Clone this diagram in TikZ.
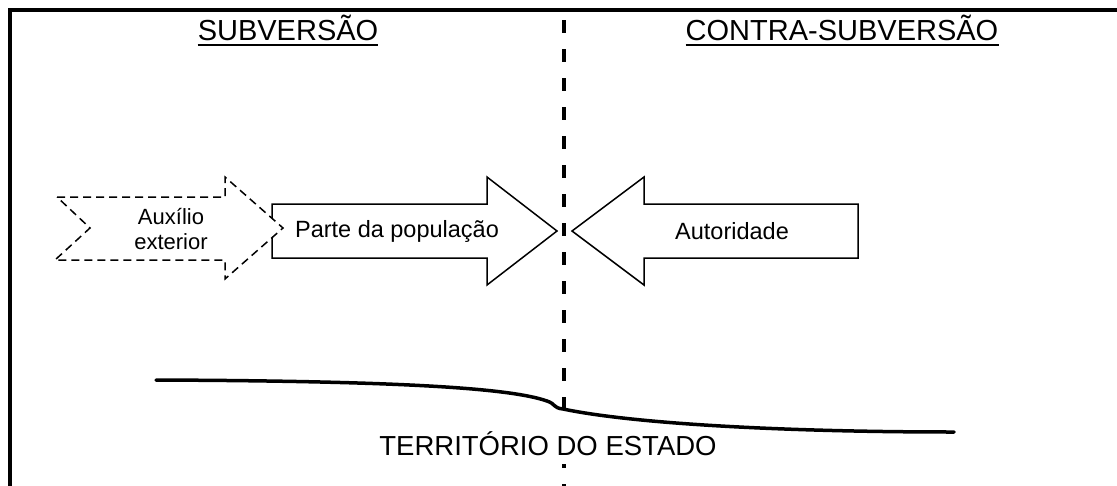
\documentclass[tikz,border=0pt]{standalone}
\usepackage{fontspec}
\setmainfont{Liberation Sans}
\begin{document}
\begin{tikzpicture}[x=1pt,y=-1pt,
  title/.style={font=\fontsize{29}{34}\selectfont, anchor=base, inner sep=0pt},
  label/.style={font=\fontsize{23.5}{27}\selectfont, inner sep=0pt},
  small/.style={font=\fontsize{22}{25}\selectfont, inner sep=0pt, align=center},
  bigarrow/.style={draw=black, fill=white, line width=1.5pt, line join=miter},
  dasharrow/.style={draw=black, fill=white, line width=1.5pt, dash pattern=on 8pt off 5pt},
  divider/.style={line width=3.2pt, dash pattern=on 13pt off 16pt},
  ground/.style={line width=3.5pt, line cap=round}
]
\useasboundingbox (0,0) rectangle (1117,485);
% frame
\draw[line width=4pt, line join=miter] (1120,10) -- (10,10) -- (10,490);
% dashed divider
\coordinate (dtop) at (564,20);
\coordinate (dbot) at (564,490);
\draw[divider] (dtop) -- (dbot);
% titles
\node[title] (sub) at (288,40) {SUBVERS\~AO};
\node[title] (csub) at (842,40) {CONTRA-SUBVERS\~AO};
\draw[line width=2pt] ([yshift=-4.5pt]sub.base west) -- ([yshift=-4.5pt]sub.base east);
\draw[line width=2pt] ([yshift=-4.5pt]csub.base west) -- ([yshift=-4.5pt]csub.base east);
% right arrow (parte da populacao)
\draw[bigarrow] (272,204) -- (487,204) -- (487,177) -- (557,231) -- (487,285) -- (487,258) -- (272,258) -- cycle;
% left arrow (autoridade)
\draw[bigarrow] (858,204) -- (644,204) -- (644,177) -- (572,231) -- (644,285) -- (644,258) -- (858,258) -- cycle;
% dashed arrow (auxilio exterior)
\draw[dasharrow] (57,197) -- (225,197) -- (225,177) -- (283,228) -- (225,279) -- (225,260) -- (55,260) -- (90,228) -- cycle;
\node[small] (aux) at (171,229) {Auxílio\\exterior};
\node[label] (pop) at (397,231) {Parte da população};
\node[label] (aut) at (732,231) {Autoridade};
% territory text (white background hides the divider)
\node[title, font=\fontsize{27.5}{32}\selectfont, fill=white, inner xsep=4pt, inner ysep=9pt] (terr) at (548,455) {TERRITÓRIO DO ESTADO};
% territory line
\coordinate (g0) at (156,380);
\coordinate (g1) at (547,401);
\coordinate (g2) at (563,409);
\coordinate (g3) at (954,432);
\draw[ground] (g0) .. controls (400,381) and (510,388) .. (g1)
  .. controls (556,404) and (553,408) .. (g2)
  .. controls (640,425) and (800,432) .. (g3);
\end{tikzpicture}
\end{document}
